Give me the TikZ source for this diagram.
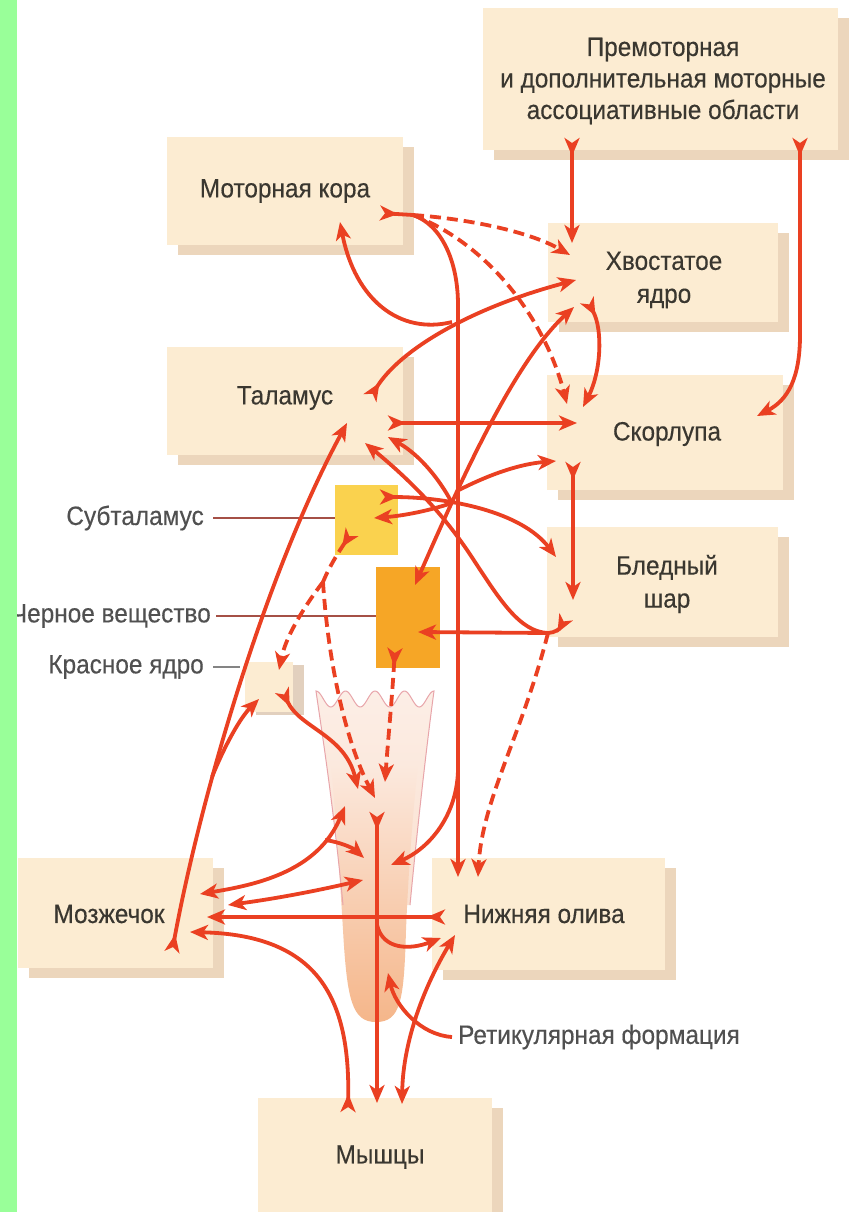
\documentclass[tikz,border=0pt]{standalone}
\usepackage{fontspec}
\setmainfont{Liberation Sans}[FakeStretch=0.92,FakeBold=0.3]
\usetikzlibrary{arrows.meta,shadows}
\definecolor{ared}{RGB}{234,64,34}
\definecolor{boxc}{RGB}{252,236,210}
\definecolor{shadc}{RGB}{236,214,188}
\definecolor{txt}{RGB}{58,55,48}
\definecolor{lbl}{RGB}{80,80,80}
\definecolor{stnc}{RGB}{250,210,78}
\definecolor{snc}{RGB}{246,166,38}
\definecolor{rnshad}{RGB}{226,208,190}
\definecolor{peach}{RGB}{245,182,138}
\definecolor{peachl}{RGB}{252,238,230}
\definecolor{pinkl}{RGB}{232,165,170}
\definecolor{greenbar}{RGB}{153,255,153}
\definecolor{leadc}{RGB}{165,80,70}
\tikzset{
  hd/.tip={Stealth[length=18pt,width=15pt,inset=5pt]},
  tl/.tip={Stealth[reversed,length=18pt,width=15pt,inset=5pt]}
}
\begin{document}
\begin{tikzpicture}[x=1pt,y=-1pt,
  box/.style={fill=boxc, inner sep=0pt, general shadow={fill=shadc, shadow xshift=11pt, shadow yshift=-10pt}},
  txtn/.style={text=txt, font=\fontsize{26.5}{33}\selectfont, align=center, inner sep=0pt},
  lbln/.style={text=lbl, font=\fontsize{26.5}{33}\selectfont, inner sep=0pt},
  conn/.style={draw=ared, line width=3.8pt},
  dsh/.style={dash pattern=on 11pt off 6pt},
  lead/.style={draw=leadc, line width=1.8pt}
]
\useasboundingbox (0,0) rectangle (850,1212);
\fill[white] (0,0) rectangle (850,1212);

% boxes
\node[box, minimum width=355pt, minimum height=142pt] (pm) at (660.5,79) {};
\node[box, minimum width=236pt, minimum height=108pt] (mc) at (285,191) {};
\node[box, minimum width=230pt, minimum height=99pt] (cd) at (663,272.5) {};
\node[box, minimum width=236pt, minimum height=108pt] (th) at (285,401) {};
\node[box, minimum width=236pt, minimum height=115pt] (pt) at (665,432.5) {};
\node[box, minimum width=231pt, minimum height=110pt] (gp) at (662.5,582) {};
\node[box, minimum width=195pt, minimum height=110pt] (cb) at (115.5,913) {};
\node[box, minimum width=233pt, minimum height=112pt] (ol) at (548.5,914) {};
\node[box, minimum width=234pt, minimum height=122pt] (mu) at (375,1159) {};
\node[fill=boxc, inner sep=0pt, minimum width=48pt, minimum height=50pt,
  general shadow={fill=rnshad, shadow xshift=11pt, shadow yshift=-3pt}] (rn) at (269,687) {};

% brainstem
\path[shade, top color=peachl, bottom color=peachl!75!peach] (316,691)
  -- plot[domain=0:118, samples=90] ({316+\x},{699-8*cos(\x*12.2034)})
  .. controls (430,720) and (420,800) .. (410,905) -- (343,905)
  .. controls (333,800) and (320,720) .. (316,691) -- cycle;
\path[shade, top color=peachl!91!peach, bottom color=peach] (331,765)
  .. controls (336,820) and (340,880) .. (343,930)
  .. controls (347,1000) and (352,1022) .. (376,1022)
  .. controls (401,1022) and (404,1000) .. (406,930)
  .. controls (408,880) and (412,820) .. (418,765) -- cycle;
\draw[pinkl, line width=1pt] (343,905) .. controls (333,800) and (320,720) .. (316,691)
  -- plot[domain=0:118, samples=90] ({316+\x},{699-8*cos(\x*12.2034)})
  .. controls (430,720) and (420,800) .. (410,905);

% small nuclei
\node[fill=stnc, inner sep=0pt, minimum width=63pt, minimum height=70pt] (stn) at (366.5,520) {};
\node[fill=snc, inner sep=0pt, minimum width=64pt, minimum height=101pt] (sn) at (408,617.5) {};

% texts in boxes
\node[txtn] (tpm) at (663,81) {Премоторная\\[-1.5pt]и дополнительная моторные\\[-1.5pt]ассоциативные области};
\node[txtn] (tmc) at (285,191) {Моторная кора};
\node[txtn] (tcd) at (664,280) {Хвостатое\\ядро};
\node[txtn] (tth) at (285,398) {Таламус};
\node[txtn] (tpt) at (667,434) {Скорлупа};
\node[txtn] (tgp) at (667,584) {Бледный\\шар};
\node[txtn] (tcb) at (109,914) {Мозжечок};
\node[txtn] (tol) at (544,914) {Нижняя олива};
\node[txtn] (tmu) at (380,1157) {Мышцы};

% side labels
\node[lbln, anchor=east] (lstn) at (204,518) {Субталамус};
\node[lbln, anchor=east] (lsn) at (211,616) {Черное вещество};
\node[lbln, anchor=east] (lrn) at (204,667) {Красное ядро};
\node[lbln, anchor=west] (lrf) at (458,1037) {Ретикулярная формация};
\draw[lead] ([xshift=9pt]lstn.east) -- (stn.west |- lstn.east);
\draw[lead] ([xshift=5pt]lsn.east) -- (sn.west |- lsn.east);
\draw[draw=lbl!70, line width=1.8pt] ([xshift=9pt]lrn.east) -- ++(27,0);

% coordinates
\coordinate (pmA) at (572,138); \coordinate (cdA) at (572,243);
\coordinate (pmB) at (800,138); \coordinate (ptA) at (757,416);
\coordinate (mcO) at (380,213); \coordinate (mcJ) at (413,215);
\coordinate (cdB) at (570,255); \coordinate (ptB) at (567,404);
\coordinate (olA) at (458,877);
\coordinate (thO) at (370,398); \coordinate (cdC) at (576,280);
\coordinate (thJ) at (452,322); \coordinate (mcA) at (340,222);
\coordinate (thP) at (388,423); \coordinate (ptC) at (577,423);
\coordinate (cdO) at (587,300); \coordinate (ptD) at (583,407);
\coordinate (snA) at (415,585); \coordinate (cdD) at (574,307);
\coordinate (snJ) at (457,491); \coordinate (ptE) at (556,461);
\coordinate (stO) at (380,497); \coordinate (gpA) at (556,557);
\coordinate (stJ) at (452,503); \coordinate (stA) at (374,518);
\coordinate (thA) at (388,437);
\coordinate (gpO) at (566,617); \coordinate (gpJ) at (548,633);
\coordinate (thB) at (365,443); \coordinate (snB) at (418,632);
\coordinate (olB) at (478,877);
\coordinate (ptO) at (573,462); \coordinate (gpB) at (573,600);
\coordinate (stO2) at (352,532); \coordinate (stJ2) at (323,582);
\coordinate (rnA) at (279,670); \coordinate (bsA) at (375,798);
\coordinate (snO) at (395,648); \coordinate (bsB) at (385,782);
\coordinate (rnO) at (282,690); \coordinate (bsC) at (358,789);
\coordinate (cbO) at (172,952); \coordinate (thC) at (347,423);
\coordinate (cbJ) at (212,777); \coordinate (rnB) at (259,699);
\coordinate (bsO) at (377,812); \coordinate (muA) at (377,1103);
\coordinate (mvJ) at (458,770); \coordinate (bsD) at (391,865);
\coordinate (bsE) at (345,806); \coordinate (cbA) at (200,894);
\coordinate (cbJ2) at (325,840); \coordinate (bsF) at (364,858);
\coordinate (cbB) at (228,905); \coordinate (bsG) at (363,880);
\coordinate (olO) at (445,917); \coordinate (cbC) at (207,917);
\coordinate (muO) at (348,1112); \coordinate (cbD) at (190,932);
\coordinate (bsJ) at (377,925); \coordinate (olC) at (441,938);
\coordinate (muB) at (402,1104); \coordinate (olD) at (455,935);
\coordinate (rfO) at (452,1037); \coordinate (rfA) at (388,973);

% premotor
\draw[conn, tl-hd] (pmA) -- (cdA);
\draw[conn, tl-hd] (pmB) -- (800,335) .. controls (800,378) and (788,400) .. (ptA);
% motor cortex
\draw[conn, tl-] (mcO) -- (mcJ);
\draw[conn, dsh, -hd] (mcJ) .. controls (470,219) and (530,232) .. (cdB);
\draw[conn, dsh, -hd] (mcJ) .. controls (490,245) and (545,320) .. (ptB);
\draw[conn, -hd] (mcJ) .. controls (442,225) and (458,262) .. (458,305) -- (olA);
% thalamus
\draw[conn, tl-hd] (thO) .. controls (400,350) and (470,308) .. (cdC);
\draw[conn, -hd] (thJ) .. controls (400,335) and (355,300) .. (mcA);
\draw[conn, tl-hd] (thP) -- (ptC);
% striatum
\draw[conn, tl-hd] (cdO) .. controls (603,330) and (601,372) .. (ptD);
\draw[conn, hd-hd] (snA) .. controls (459,485) and (513,363) .. (cdD);
\draw[conn, -hd] (snJ) .. controls (490,474) and (520,464) .. (ptE);
\draw[conn, tl-hd] (ptO) -- (gpB);
% subthalamus - pallidum
\draw[conn, tl-hd] (stO) .. controls (450,497) and (522,512) .. (gpA);
\draw[conn, -hd] (stJ) .. controls (425,512) and (400,516) .. (stA);
\draw[conn, -hd] (stJ) .. controls (440,480) and (420,455) .. (thA);
% pallidum outputs
\draw[conn, tl-] (gpO) .. controls (560,628) and (555,633) .. (gpJ);
\draw[conn, -hd] (gpJ) .. controls (520,632) and (500,600) .. (475,562)
  .. controls (445,515) and (410,480) .. (thB);
\draw[conn, -hd] (gpJ) -- (snB);
\draw[conn, dsh, -hd] (gpJ) .. controls (522,735) and (482,800) .. (olB);
% subthalamus dashed
\draw[conn, dsh, tl-] (stO2) .. controls (340,550) and (330,565) .. (stJ2);
\draw[conn, dsh, -hd] (stJ2) .. controls (300,612) and (285,640) .. (rnA);
\draw[conn, dsh, -hd] (stJ2) .. controls (328,660) and (345,740) .. (bsA);
% nigra dashed
\draw[conn, dsh, tl-hd] (snO) .. controls (392,700) and (388,740) .. (bsB);
% red nucleus
\draw[conn, tl-hd] (rnO) .. controls (300,728) and (345,735) .. (bsC);
% cerebellum
\draw[conn, tl-hd] (cbO) .. controls (198,810) and (262,580) .. (thC);
\draw[conn, -hd] (cbJ) .. controls (225,745) and (240,718) .. (rnB);
\draw[conn, hd-hd] (cbA) .. controls (255,885) and (318,872) .. (bsE);
\draw[conn, -hd] (cbJ2) .. controls (340,842) and (353,848) .. (bsF);
\draw[conn, hd-hd] (cbB) .. controls (280,898) and (320,890) .. (bsG);
\draw[conn, tl-hd] (olO) -- (cbC);
\draw[conn, tl-hd] (muO) .. controls (350,1000) and (320,935) .. (cbD);
% brainstem
\draw[conn, tl-hd] (bsO) -- (muA);
\draw[conn, -hd] (mvJ) .. controls (457,815) and (430,848) .. (bsD);
\draw[conn, -hd] (bsJ) .. controls (383,950) and (410,950) .. (olC);
\draw[conn, hd-hd] (muB) .. controls (403,1040) and (425,985) .. (olD);
\draw[conn, -hd] (rfO) .. controls (420,1035) and (395,1005) .. (rfA);

% green strip
\fill[greenbar] (0,0) rectangle (17,1212);
\end{tikzpicture}
\end{document}
